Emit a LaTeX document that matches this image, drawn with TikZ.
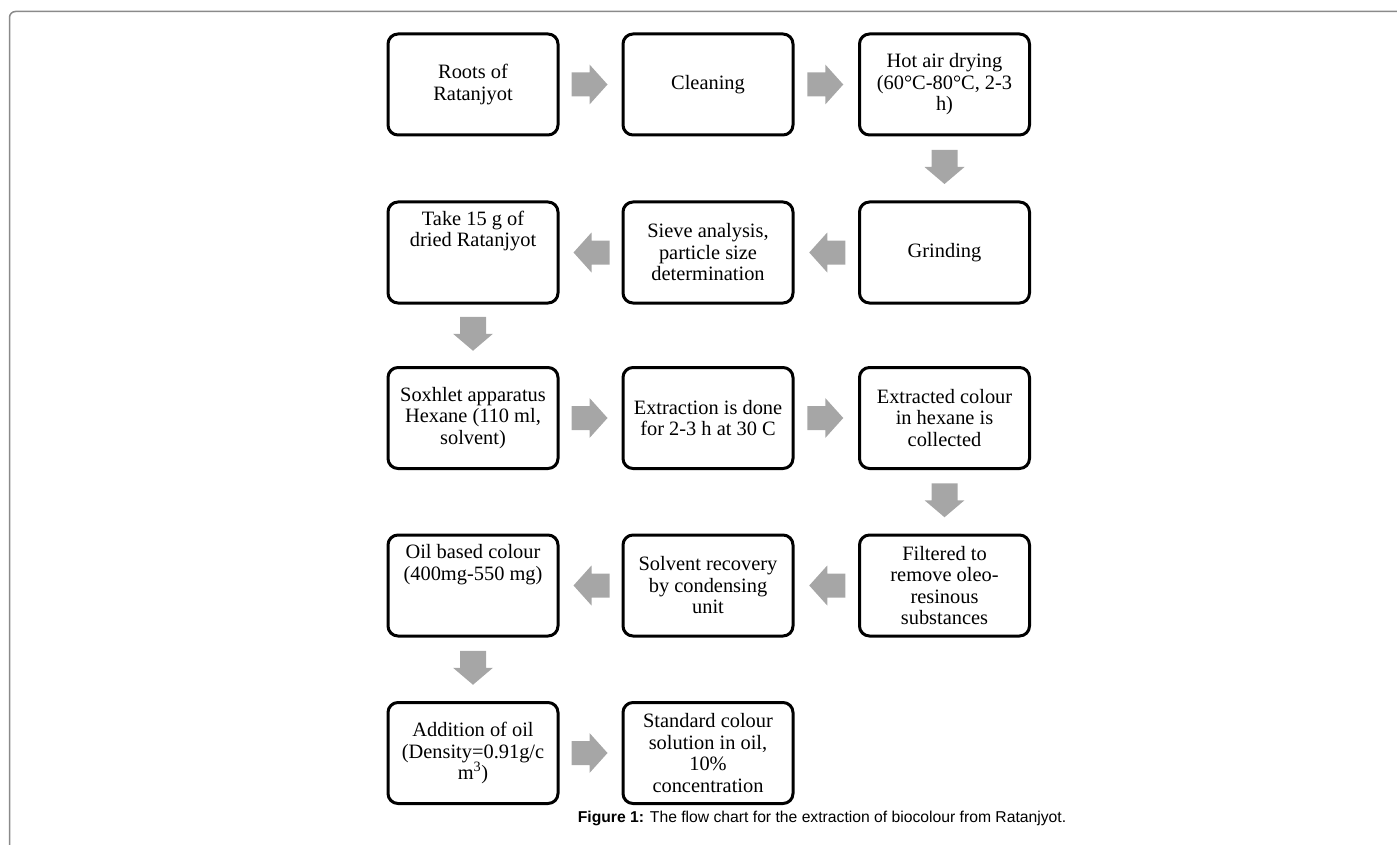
\documentclass[tikz,border=0pt]{standalone}
\usepackage{fontspec}
\setmainfont{Liberation Serif}
\newfontfamily\capfont{Liberation Sans}
\usetikzlibrary{calc}
\definecolor{arrgray}{HTML}{A6A6A6}
\definecolor{framegray}{HTML}{8A8A8A}
\tikzset{
  box/.style={draw=black, line width=3pt, rounded corners=10pt, minimum width=170pt,
    minimum height=101pt, align=center, inner sep=2pt, font=\fontsize{20.4}{21.5}\selectfont},
  txt/.style={align=center, inner sep=0pt, font=\fontsize{20.4}{21.5}\selectfont},
  rarr/.pic={\fill[arrgray] (-18,-12) -- (0,-12) -- (0,-20) -- (18,0) -- (0,20) -- (0,12) -- (-18,12) -- cycle;},
  larr/.pic={\fill[arrgray] (18,-12) -- (0,-12) -- (0,-20) -- (-18,0) -- (0,20) -- (0,12) -- (18,12) -- cycle;},
  darr/.pic={\fill[arrgray] (-13,-17) -- (13,-17) -- (13,0) -- (20,0) -- (0,17) -- (-20,0) -- (-13,0) -- cycle;}
}
\begin{document}
\begin{tikzpicture}[x=1pt,y=-1pt]
\useasboundingbox (0,0) rectangle (1397,845);
\draw[framegray, line width=1.5pt, rounded corners=6pt] (9.5,845) -- (9.5,11.5) -- (1397,11.5);

\node[box] (b1) at (473,84.5) {Roots of\\Ratanjyot};
\node[box] (b2) at (708,84.5) {Cleaning};
\node[box] (b3) at (944.5,84.5) {Hot air drying\\(60°C-80°C, 2-3\\h)};
\node[box] (b4) at (944.5,252.5) {Grinding};
\node[box] (b5) at (708,252.5) {Sieve analysis,\\particle size\\determination};
\node[box] (b6) at (473,252.5) {};
\node[txt] (t6) at (473,231) {Take 15 g of\\dried Ratanjyot};
\node[box] (b7) at (473,418) {Soxhlet apparatus\\Hexane (110 ml,\\solvent)};
\node[box] (b8) at (708,418) {Extraction is done\\for 2-3 h at 30 C};
\node[box] (b9) at (944.5,418) {Extracted colour\\in hexane is\\collected};
\node[box] (b10) at (944.5,585.5) {Filtered to\\remove oleo-\\resinous\\substances};
\node[box] (b11) at (708,585.5) {Solvent recovery\\by condensing\\unit};
\node[box] (b12) at (473,585.5) {};
\node[txt] (t12) at (473,564.5) {Oil based colour\\(400mg-550 mg)};
\node[box] (b13) at (473,753) {Addition of oil\\(Density=0.91g/c\\m\textsuperscript{3})};
\node[box] (b14) at (708,753) {Standard colour\\solution in oil,\\10\%\\concentration};

\pic at ($(b1.east)!0.5!(b2.west)+(-1,0)$) {rarr};
\pic at ($(b2.east)!0.5!(b3.west)+(-1,0)$) {rarr};
\pic at ($(b3.south)!0.5!(b4.north)+(0,-1.5)$) {darr};
\pic at ($(b4.west)!0.5!(b5.east)+(1,0)$) {larr};
\pic at ($(b5.west)!0.5!(b6.east)+(1,0)$) {larr};
\pic at ($(b6.south)!0.5!(b7.north)+(0,-1.5)$) {darr};
\pic at ($(b7.east)!0.5!(b8.west)+(-1,0)$) {rarr};
\pic at ($(b8.east)!0.5!(b9.west)+(-1,0)$) {rarr};
\pic at ($(b9.south)!0.5!(b10.north)+(0,-1.5)$) {darr};
\pic at ($(b10.west)!0.5!(b11.east)+(1,0)$) {larr};
\pic at ($(b11.west)!0.5!(b12.east)+(1,0)$) {larr};
\pic at ($(b12.south)!0.5!(b13.north)+(0,-1.5)$) {darr};
\pic at ($(b13.east)!0.5!(b14.west)+(-1,0)$) {rarr};

\node[anchor=base, inner sep=0pt, font=\capfont\fontsize{15.7}{18}\selectfont] (cap) at (822,822.5)
  {\textbf{Figure 1:} The flow chart for the extraction of biocolour from Ratanjyot.};
\end{tikzpicture}
\end{document}
